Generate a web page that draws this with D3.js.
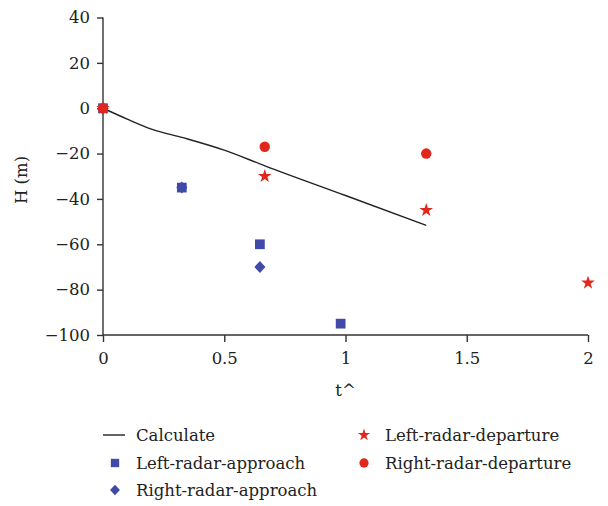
<!DOCTYPE html>
<html>
<head>
<meta charset="utf-8">
<script src="https://cdn.jsdelivr.net/npm/d3@7"></script>
<style>
  body { margin: 0; background: #fff; }
  svg text { font-family: "DejaVu Serif", serif; fill: #222; }
</style>
</head>
<body>
<svg width="608" height="506"></svg>
<script>
// calculated curve
var calcT = [0, 0.1, 0.2, 0.33, 0.5, 0.67, 1.0, 1.333];
var calcH = [0, -4.8, -9.2, -13, -18.5, -25.5, -38.5, -51.7];

// measured points
var leftApproachT = [0, 0.325, 0.647, 0.98];
var leftApproachH = [0, -35, -60, -95];
var rightApproachT = [0, 0.325, 0.647];
var rightApproachH = [0, -35, -70];
var leftDepartureT = [0, 0.667, 1.333, 2];
var leftDepartureH = [0, -30, -45, -77];
var rightDepartureT = [0, 0.667, 1.333];
var rightDepartureH = [0, -17, -20];

var xTicks = [0, 0.5, 1, 1.5, 2];
var yTicks = [40, 20, 0, -20, -40, -60, -80, -100];

var blue = "#4149a9", red = "#e1261c";

var svg = d3.select("svg");

var x = d3.scaleLinear().domain([0, 2]).range([103, 588]);
var y = d3.scaleLinear().domain([-100, 40]).range([335, 17.5]);

var zip = function(ts, hs) { return ts.map(function(t, i) { return [t, hs[i]]; }); };

// diamond as a square turned 45 degrees (d3's own diamond is too thin)
var diamond = {
    draw: function(ctx, size) {
        var r = Math.sqrt(size / 2);
        ctx.moveTo(0, -r);
        ctx.lineTo(r * 0.92, 0);
        ctx.lineTo(0, r);
        ctx.lineTo(-r * 0.92, 0);
        ctx.closePath();
    }
};

// axes
var gx = svg.append("g")
    .attr("transform", "translate(0," + y(-100) + ")")
    .call(d3.axisBottom(x).tickValues(xTicks).tickSize(7).tickPadding(10)
        .tickFormat(function(d) { return d; }));
var gy = svg.append("g")
    .attr("transform", "translate(" + x(0) + ",0)")
    .call(d3.axisLeft(y).tickValues(yTicks).tickSize(6).tickPadding(7)
        .tickFormat(function(d) { return d < 0 ? "\u2212" + Math.abs(d) : d; }));

[gx, gy].forEach(function(g) {
    g.selectAll("path, line").attr("stroke", "#333").attr("stroke-width", 1.4);
    g.selectAll("text").attr("font-size", 16.5).attr("font-family", "DejaVu Serif").attr("fill", "#222");
});
gx.select(".domain").attr("d", "M" + x(0) + ",0H" + x(2));
gy.select(".domain").attr("d", "M0," + y(40) + "V" + y(-100));

svg.append("text")
    .attr("x", x(1)).attr("y", 396)
    .attr("text-anchor", "middle").attr("font-size", 16.5)
    .text("t^");
svg.append("text")
    .attr("transform", "translate(27," + 180 + ") rotate(-90)")
    .attr("text-anchor", "middle").attr("font-size", 16.5)
    .text("H (m)");

// calculated line
svg.append("path")
    .datum(zip(calcT, calcH))
    .attr("fill", "none")
    .attr("stroke", "#222")
    .attr("stroke-width", 1.4)
    .attr("d", d3.line().x(function(d) { return x(d[0]); }).y(function(d) { return y(d[1]); }).curve(d3.curveMonotoneX));

var series = [
    { name: "Left-radar-approach", data: zip(leftApproachT, leftApproachH), sym: d3.symbolSquare, size: 95, color: blue },
    { name: "Right-radar-approach", data: zip(rightApproachT, rightApproachH), sym: diamond, size: 72, color: blue },
    { name: "Left-radar-departure", data: zip(leftDepartureT, leftDepartureH), sym: d3.symbolStar, size: 58, color: red },
    { name: "Right-radar-departure", data: zip(rightDepartureT, rightDepartureH), sym: d3.symbolCircle, size: 85, color: red }
];

series.forEach(function(s) {
    svg.append("g").selectAll("path")
        .data(s.data)
        .enter().append("path")
        .attr("transform", function(d) { return "translate(" + x(d[0]) + "," + y(d[1]) + ")"; })
        .attr("d", d3.symbol().type(s.sym).size(s.size))
        .attr("fill", s.color);
});

// legend
var legend = svg.append("g").attr("font-size", 16.5);
var items = [
    { name: "Calculate", line: true, lx: 103, ly: 435 },
    { s: series[0], lx: 103, ly: 463 },
    { s: series[1], lx: 103, ly: 490 },
    { s: series[2], lx: 352, ly: 435 },
    { s: series[3], lx: 352, ly: 463 }
];
items.forEach(function(it) {
    var g = legend.append("g").attr("transform", "translate(" + it.lx + "," + it.ly + ")");
    if (it.line) {
        g.append("line").attr("x1", 0).attr("x2", 22).attr("stroke", "#222").attr("stroke-width", 1.4);
    } else {
        g.append("path")
            .attr("transform", "translate(12,0)")
            .attr("d", d3.symbol().type(it.s.sym).size(it.s.sym === d3.symbolSquare ? 70 : it.s.size * 0.8))
            .attr("fill", it.s.color);
    }
    g.append("text").attr("x", 33).attr("y", 5.5).text(it.line ? it.name : it.s.name);
});
</script>
</body>
</html>
